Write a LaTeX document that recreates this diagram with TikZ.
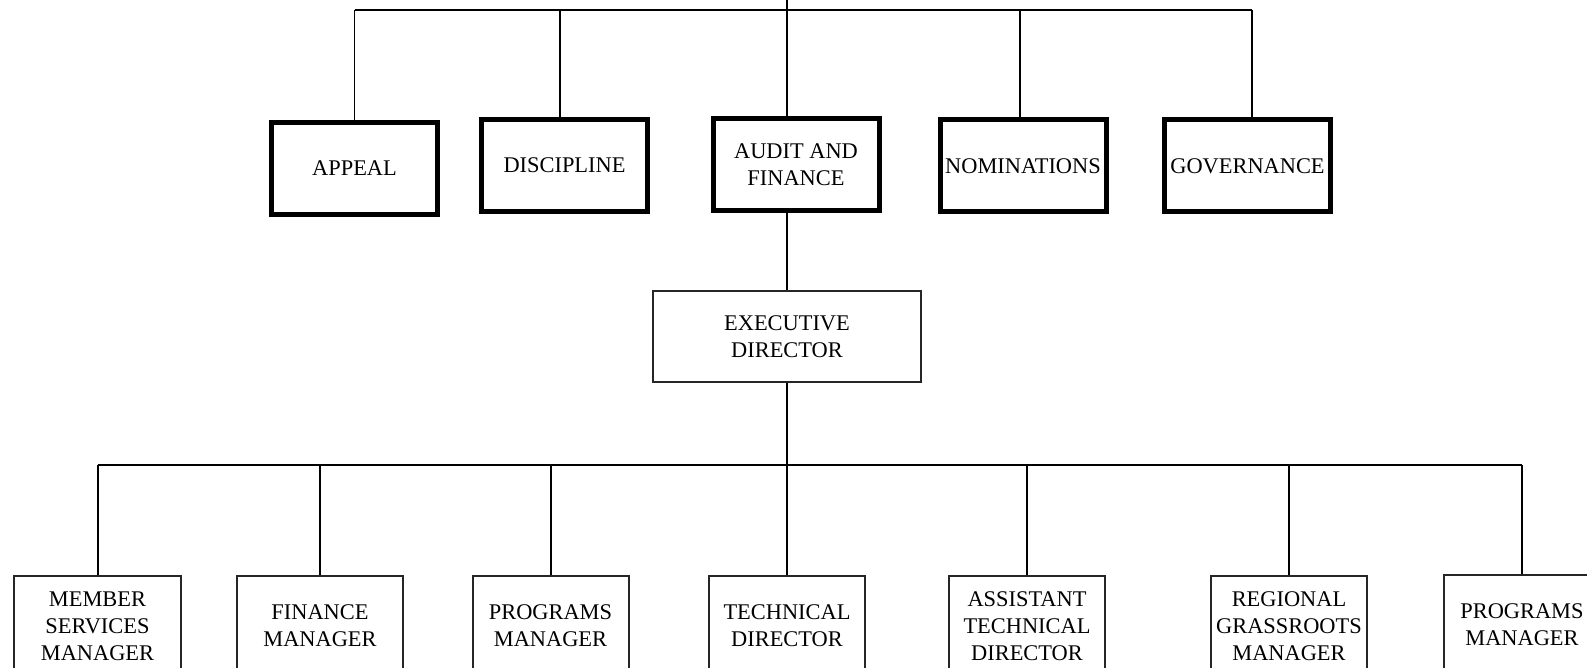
\documentclass[tikz,border=0pt]{standalone}
\usepackage{fontspec}
\setmainfont{Liberation Serif}
\usepackage{tikz}

\begin{document}
\begin{tikzpicture}[x=0.5pt,y=-0.5pt,
  board/.style={draw, line width=2.5pt, minimum width=83pt, minimum height=46pt,
    inner sep=0pt, align=center, font=\fontsize{11.2}{13.4}\selectfont},
  staff/.style={draw=black!85, line width=1pt, minimum width=78pt, minimum height=50pt,
    inner sep=0pt, align=center, font=\fontsize{11.2}{13.4}\selectfont},
  link/.style={line width=1pt},
  thinlink/.style={line width=0.8pt}]
\useasboundingbox (0,0) rectangle (1587,668);

  \coordinate (top) at (787,0);
  \coordinate (topbar) at (787,10);
  \coordinate (bus) at (787,465);

\node[board] (appeal) at (354.5,168.5) {APPEAL};
\node[board] (discipline) at (564.5,165.5) {DISCIPLINE};
\node[board] (audit) at (796,165) {AUDIT AND\\FINANCE};
\node[board] (nominations) at (1023,166) {NOMINATIONS};
\node[board] (governance) at (1247.5,166) {GOVERNANCE};

\node[staff, minimum width=134pt, minimum height=45.5pt] (exec) at (787,336.5) {EXECUTIVE\\DIRECTOR};

\node[staff, minimum width=83.5pt] (member) at (97.5,626) {MEMBER\\SERVICES\\MANAGER};
\node[staff, minimum width=83pt] (finance) at (320,626) {FINANCE\\MANAGER};
\node[staff] (programs) at (550.5,626) {PROGRAMS\\MANAGER};
\node[staff] (technical) at (787,626) {TECHNICAL\\DIRECTOR};
\node[staff] (assistant) at (1027,626) {ASSISTANT\\TECHNICAL\\DIRECTOR};
\node[staff] (regional) at (1289,626) {REGIONAL\\GRASSROOTS\\MANAGER};
\node[staff] (programsb) at (1522,625) {PROGRAMS\\MANAGER};

% board committees
\draw[thinlink] (appeal.north |- topbar) -- ([xshift=2.25pt]governance.north |- topbar);
\draw[thinlink] (appeal.north) -- (appeal.north |- topbar);
\draw[thinlink] ([xshift=-2.25pt]discipline.north) -- ([xshift=-2.25pt]discipline.north |- topbar);
\draw[thinlink] ([xshift=-1.5pt]nominations.north) -- ([xshift=-1.5pt]nominations.north |- topbar);
\draw[thinlink] ([xshift=2.25pt]governance.north) -- ([xshift=2.25pt]governance.north |- topbar);
\draw[thinlink] (top) -- (top |- audit.north);

\draw[link] (top |- audit.south) -- (exec.north);
\draw[link] (exec.south) -- (exec.south |- bus);

% staff
\draw[link] (member.north |- bus) -- (programsb.north |- bus);
\draw[link] (member.north) -- (member.north |- bus);
\draw[link] (finance.north) -- (finance.north |- bus);
\draw[link] (programs.north) -- (programs.north |- bus);
\draw[link] (technical.north) -- (technical.north |- bus);
\draw[link] (assistant.north) -- (assistant.north |- bus);
\draw[link] (regional.north) -- (regional.north |- bus);
\draw[link] (programsb.north) -- (programsb.north |- bus);
\end{tikzpicture}
\end{document}
